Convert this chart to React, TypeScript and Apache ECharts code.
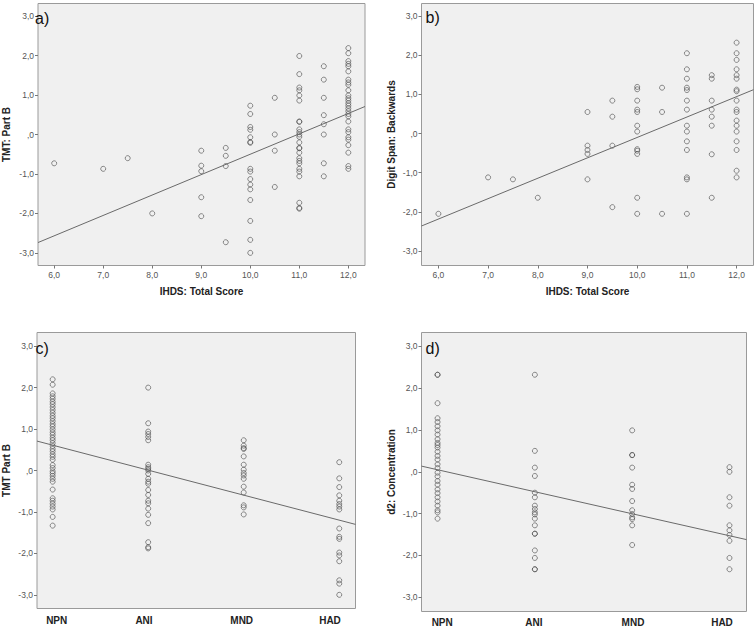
import React, { useEffect, useRef } from "react";
import * as echarts from "echarts";

// ---------- data ----------
const ihdsScores = [6, 7, 7.5, 8, 9, 9.5, 10, 10.5, 11, 11.5, 12];

const tmtByIhds: number[][] = [
  [-0.73],
  [-0.87],
  [-0.6],
  [-2.0],
  [-0.41, -0.79, -0.93, -1.59, -2.07],
  [-0.34, -0.54, -0.8, -2.73],
  [0.73, 0.52, 0.19, 0.12, -0.07, -0.19, -0.21, -0.87, -0.94, -1.13, -1.27, -1.39, -1.66, -2.19, -2.67, -3.0],
  [0.93, 0.0, -0.41, -1.33],
  [1.99, 1.53, 1.19, 1.12, 0.99, 0.86, 0.33, 0.32, 0.13, 0.06, 0.0, -0.06, -0.2, -0.34, -0.35, -0.46, -0.6, -0.67, -0.73, -0.87, -0.94, -1.06, -1.73, -1.86, -1.88],
  [1.73, 1.39, 0.93, 0.49, 0.26, 0.0, -0.73, -1.06],
  [2.19, 2.06, 1.86, 1.79, 1.73, 1.6, 1.39, 1.32, 1.26, 1.12, 0.99, 0.92, 0.86, 0.79, 0.73, 0.66, 0.59, 0.52, 0.46, 0.33, 0.13, 0.06, -0.07, -0.13, -0.27, -0.46, -0.8, -0.87],
];

const digitSpanByIhds: number[][] = [
  [-2.05],
  [-1.12],
  [-1.17],
  [-1.64],
  [0.55, -0.31, -0.42, -0.52, -1.17],
  [0.84, 0.43, -0.31, -1.88],
  [1.19, 1.13, 0.84, 0.61, 0.55, 0.2, 0.05, -0.4, -0.44, -0.52, -1.64, -2.05],
  [1.17, 0.55, -2.05],
  [2.05, 1.64, 1.4, 1.17, 1.11, 0.84, 0.61, 0.2, 0.05, -0.2, -0.42, -1.12, -1.17, -2.05],
  [1.49, 1.4, 0.84, 0.61, 0.43, 0.2, -0.53, -1.64],
  [2.32, 2.05, 1.88, 1.64, 1.49, 1.4, 1.12, 1.08, 0.84, 0.61, 0.55, 0.33, 0.2, 0.05, -0.2, -0.42, -0.95, -1.12],
];

const groups = ["NPN", "ANI", "MND", "HAD"];

const tmtByGroup: number[][] = [
  [2.2, 2.07, 1.86, 1.79, 1.73, 1.66, 1.6, 1.53, 1.46, 1.39, 1.32, 1.26, 1.19, 1.12, 1.06, 0.99, 0.92, 0.86, 0.79, 0.73, 0.66, 0.59, 0.52, 0.46, 0.39, 0.33, 0.26, 0.13, 0.06, -0.02, -0.07, -0.13, -0.2, -0.27, -0.46, -0.67, -0.73, -0.8, -0.87, -0.94, -1.12, -1.33],
  [2.0, 1.14, 0.94, 0.88, 0.81, 0.73, 0.14, 0.08, 0.04, 0.0, -0.08, -0.2, -0.27, -0.32, -0.47, -0.59, -0.73, -0.79, -0.92, -1.07, -1.27, -1.73, -1.85, -1.88],
  [0.73, 0.6, 0.54, 0.52, 0.34, 0.14, 0.02, -0.06, -0.12, -0.2, -0.39, -0.53, -0.84, -0.89, -1.06],
  [0.2, -0.19, -0.4, -0.6, -0.73, -0.81, -0.87, -0.94, -1.4, -1.6, -1.65, -1.98, -2.05, -2.19, -2.65, -2.73, -3.0],
];

const d2ByGroup: number[][] = [
  [2.32, 2.32, 1.64, 1.28, 1.19, 1.09, 0.99, 0.89, 0.78, 0.69, 0.64, 0.58, 0.48, 0.38, 0.29, 0.18, 0.09, -0.02, -0.11, -0.22, -0.31, -0.42, -0.51, -0.61, -0.71, -0.81, -0.92, -0.97, -1.12],
  [2.32, 0.5, 0.1, -0.1, -0.5, -0.61, -0.81, -0.89, -0.97, -1.02, -1.12, -1.28, -1.48, -1.48, -1.88, -2.06, -2.33, -2.33],
  [0.99, 0.4, 0.4, 0.1, -0.31, -0.41, -0.7, -0.92, -1.01, -1.09, -1.13, -1.28, -1.75],
  [0.11, 0.0, -0.61, -0.81, -1.28, -1.4, -1.51, -1.65, -2.06, -2.33],
];

// regression lines: [intercept, slope]
const fitA = [-5.67, 0.517];
const fitB = [-5.31, 0.521];
const fitC = [1.214, -0.603];
const fitD = [0.575, -0.526];

const yTicks = [-3, -2, -1, 0, 1, 2, 3];
const xTicks = [6, 7, 8, 9, 10, 11, 12];

// ---------- helpers ----------
const fmt = (v: number) => {
  if (v === 0) return ",0";
  return v.toFixed(1).replace(".", ",");
};

const font = "Arial, 'Liberation Sans', sans-serif";

function pointsFrom(xs: number[], ys: number[][]) {
  const out: number[][] = [];
  xs.forEach((x, i) => ys[i].forEach((y) => out.push([x, y])));
  return out;
}

export default function App() {
  const ref = useRef<HTMLDivElement>(null);

  useEffect(() => {
    if (!ref.current) return;
    const chart = echarts.init(ref.current, undefined, { renderer: "svg" });

    const grids = [
      { left: 33, top: 3.5, width: 332, height: 262 },
      { left: 421.5, top: 3.5, width: 332, height: 262 },
      { left: 31.5, top: 332.5, width: 324, height: 276 },
      { left: 421.5, top: 332.5, width: 325, height: 279 },
    ].map((g) => ({
      ...g,
      show: true,
      backgroundColor: "#f0f0f0",
      borderColor: "#9a9a9a",
      borderWidth: 1,
    }));

    const xRanges = [
      [5.67, 12.34],
      [5.66, 12.34],
      [0.836, 4.17],
      [0.835, 4.175],
    ];
    const yRanges = [
      [-3.32, 3.32],
      [-3.37, 3.32],
      [-3.33, 3.33],
      [-3.34, 3.33],
    ];
    const yNames = ["TMT: Part B", "Digit Span: Backwards", "TMT Part B", "d2: Concentration"];
    const yGaps = [27, 25, 26, 25];

    const xAxis = xRanges.map((r, i) => ({
      type: "value",
      gridIndex: i,
      min: r[0],
      max: r[1],
      position: "bottom",
      name: i < 2 ? "IHDS: Total Score" : "",
      nameLocation: "middle",
      nameGap: 21,
      nameTextStyle: { fontFamily: font, fontSize: 10, fontWeight: "bold", color: "#222" },
      axisLine: { show: false, onZero: false },
      splitLine: { show: false },
      axisTick: i < 2 ? { show: true, customValues: xTicks, length: 3, lineStyle: { color: "#777" } } : { show: false },
      axisLabel:
        i < 2
          ? { show: true, customValues: xTicks, formatter: fmt, fontFamily: font, fontSize: 8.5, color: "#555", margin: 5 }
          : { show: false },
    }));

    const yAxis = yRanges.map((r, i) => ({
      type: "value",
      gridIndex: i,
      min: r[0],
      max: r[1],
      position: "left",
      name: yNames[i],
      nameLocation: "middle",
      nameGap: yGaps[i],
      nameTextStyle: { fontFamily: font, fontSize: 10, fontWeight: "bold", color: "#222" },
      axisLine: { show: false, onZero: false },
      splitLine: { show: false },
      axisTick: { show: true, customValues: yTicks, length: 3, lineStyle: { color: "#777" } },
      axisLabel: { customValues: yTicks, formatter: fmt, fontFamily: font, fontSize: 8.5, color: "#555", margin: 4 },
    }));

    const scatterStyle = {
      type: "scatter",
      symbol: "circle",
      symbolSize: 5,
      itemStyle: { color: "transparent", borderColor: "#4a4a4a", borderWidth: 0.8 },
      silent: true,
    };

    const lineFor = (fit: number[], r: number[], idx: number) => ({
      type: "line",
      xAxisIndex: idx,
      yAxisIndex: idx,
      showSymbol: false,
      silent: true,
      lineStyle: { color: "#6a6a6a", width: 1 },
      data: [
        [r[0], fit[0] + fit[1] * r[0]],
        [r[1], fit[0] + fit[1] * r[1]],
      ],
    });

    const groupX = groups.map((_, i) => i + 1);

    const series = [
      { ...scatterStyle, xAxisIndex: 0, yAxisIndex: 0, data: pointsFrom(ihdsScores, tmtByIhds) },
      { ...scatterStyle, xAxisIndex: 1, yAxisIndex: 1, data: pointsFrom(ihdsScores, digitSpanByIhds) },
      { ...scatterStyle, xAxisIndex: 2, yAxisIndex: 2, data: pointsFrom(groupX, tmtByGroup) },
      { ...scatterStyle, xAxisIndex: 3, yAxisIndex: 3, data: pointsFrom(groupX, d2ByGroup) },
      lineFor(fitA, xRanges[0], 0),
      lineFor(fitB, xRanges[1], 1),
      lineFor(fitC, xRanges[2], 2),
      lineFor(fitD, xRanges[3], 3),
    ];

    const panelLabels = [
      { t: "a)", x: 35, y: 10 },
      { t: "b)", x: 425.5, y: 9 },
      { t: "c)", x: 35.5, y: 340 },
      { t: "d)", x: 425.5, y: 340 },
    ];
    const catLabelPos = [
      { xs: [56.7, 144, 241.7, 330], y: 620 },
      { xs: [442.2, 533.8, 633, 722], y: 622.5 },
    ];

    const graphic: any[] = panelLabels.map((p) => ({
      type: "text",
      x: p.x,
      y: p.y,
      style: { text: p.t, font: `16px ${font}`, fill: "#111", textVerticalAlign: "top" },
      z: 100,
    }));
    catLabelPos.forEach((c) =>
      c.xs.forEach((x, i) =>
        graphic.push({
          type: "text",
          x,
          y: c.y,
          style: {
            text: groups[i],
            font: `bold 10px ${font}`,
            fill: "#222",
            textAlign: "center",
            textVerticalAlign: "middle",
          },
        })
      )
    );

    chart.setOption({
      animation: false,
      backgroundColor: "#ffffff",
      grid: grids,
      xAxis,
      yAxis,
      series,
      graphic,
    } as any);

    return () => chart.dispose();
  }, []);

  return (
    <div
      ref={ref}
      style={{ position: "fixed", left: 0, top: 0, width: 756, height: 628, background: "#fff" }}
    />
  );
}
